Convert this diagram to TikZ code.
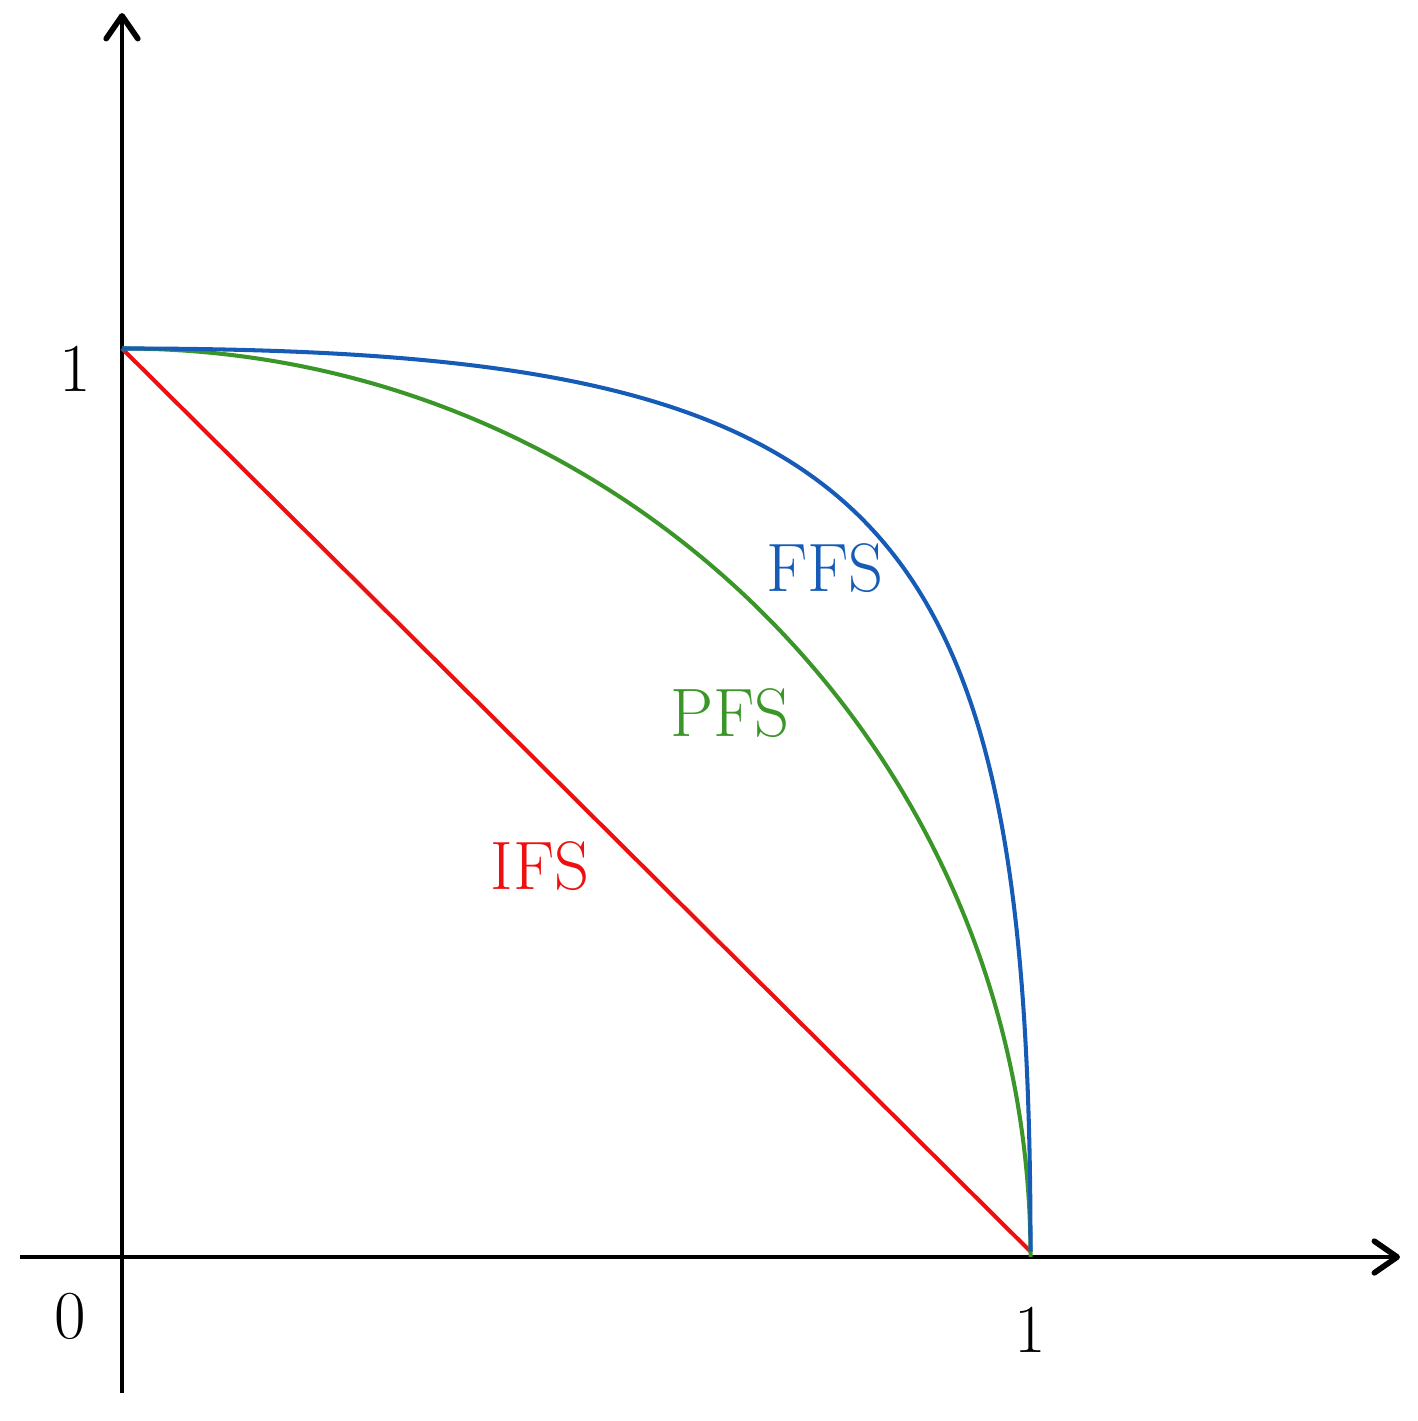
\documentclass[tikz,border=0pt]{standalone}
\usetikzlibrary{arrows.meta}
\definecolor{ffsblue}{RGB}{22,92,182}
\definecolor{pfsgreen}{RGB}{58,150,40}
\definecolor{ifsred}{RGB}{238,16,16}
\tikzset{
  axis/.style={line width=1.4pt,-{Straight Barb[length=6.5pt,width=9pt,line width=1.6pt,round]}},
  curve/.style={line width=1.15pt},
  lbl/.style={font=\fontsize{19.5}{22}\selectfont, inner sep=0pt},
}
\begin{document}
\begin{tikzpicture}[x=0.01cm,y=-0.01cm]
\useasboundingbox (0,0) rectangle (1417,1421);
\coordinate (yb) at (122,1393);
\coordinate (yt) at (122,13);
\coordinate (xl) at (20,1257);
\coordinate (xr) at (1400,1257);
\draw[axis] (yb) -- (yt);
\draw[axis] (xl) -- (xr);
\begin{scope}[shift={(122,1257)},x=9.08cm,y=9.08cm]
  \coordinate (A) at (0,1);
  \coordinate (B) at (1,0.006);
  \draw[curve,ifsred] (A) -- (B);
  \draw[curve,pfsgreen] (A) arc[start angle=90,end angle=0,radius=1];
  \draw[curve,ffsblue] (A) .. controls (0.835,1) and (1,0.835) .. (B);
\end{scope}
\node[lbl] (one y) at (75,369) {1};
\node[lbl] (zero) at (70,1316) {0};
\node[lbl] (one x) at (1030,1330) {1};
\node[lbl,text=ffsblue] (ffs) at (825,568) {FFS};
\node[lbl,text=pfsgreen] (pfs) at (730,713) {PFS};
\node[lbl,text=ifsred] (ifs) at (540,866) {IFS};
\end{tikzpicture}
\end{document}
